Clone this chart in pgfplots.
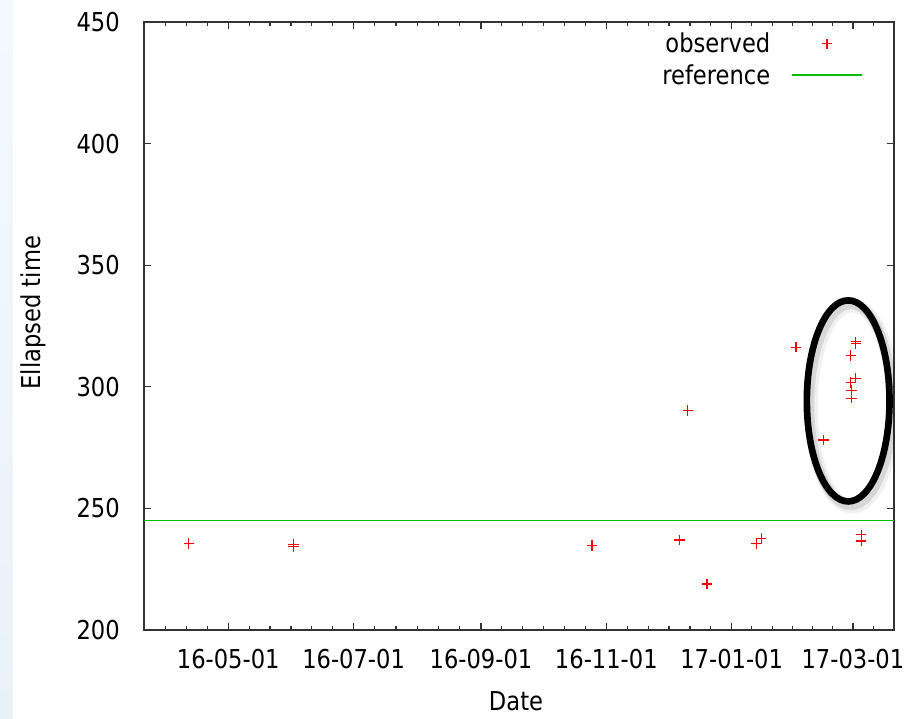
\documentclass[border=0pt]{standalone}
\usepackage{fontspec}
\setmainfont{DejaVu Sans}[FakeStretch=0.87]
\usepackage{pgfplots}
\pgfplotsset{compat=1.18}
\definecolor{gpred}{RGB}{255,0,0}
\definecolor{gpgreen}{RGB}{0,192,0}
\definecolor{striptop}{RGB}{244,249,255}
\definecolor{stripbot}{RGB}{231,242,247}
\newcommand{\gpfont}{\fontsize{19.5}{23.4}\selectfont}
\pgfplotsset{
  obslegend/.style={legend image code/.code={\path[draw=none] (0pt,0pt) -- (52.5pt,0pt); \draw[##1] plot coordinates {(26.25pt,0pt)};}},
  reflegend/.style={legend image code/.code={\draw[##1] (0pt,0pt) -- (52.5pt,0pt);}},
}
\begin{document}
\begin{tikzpicture}
\useasboundingbox (0,0) rectangle (684pt,538.5pt);
\fill[white] (0,0) rectangle (684pt,538.5pt);
\shade[top color=striptop, bottom color=stripbot] (0,0) rectangle (9.5pt,538.5pt);
\begin{axis}[
  at={(108pt,66pt)}, anchor=south west,
  scale only axis, width=562.5pt, height=456pt,
  xmin=80, xmax=445, ymin=200, ymax=450,
  xtick={121,182,244,305,366,425},
  xticklabels={16-05-01,16-07-01,16-09-01,16-11-01,17-01-01,17-03-01},
  minor xtick={90.5,100.67,110.83,131.17,141.33,151.5,161.67,171.83,192.33,202.67,213,223.33,233.67,254.17,264.33,274.5,284.67,294.83,315.17,325.33,335.5,345.67,355.83,375.83,385.67,395.5,405.33,415.17,435.17},
  ytick={200,250,300,350,400,450},
  axis line style={black!80, line width=0.9pt},
  every tick/.style={black!80, line width=0.9pt},
  major tick length=5.25pt, minor tick length=3pt,
  tick align=inside,
  /pgf/number format/assume math mode=true,
  tick label style={font=\gpfont},
  yticklabel style={inner sep=0pt, xshift=-18pt},
  xticklabel style={inner sep=0pt, yshift=-14.25pt},
  xlabel={Date}, ylabel={Ellapsed time},
  label style={font=\gpfont},
  xlabel style={at={(axis description cs:0.496,-0.132)}, anchor=base, inner sep=0pt},
  ylabel style={at={(axis description cs:-0.148,0.522)}, anchor=center},
  legend style={draw=none, fill=none, font=\gpfont, at={(axis description cs:0.9587,0.9825)}, anchor=north east, inner sep=0pt, row sep=7.2pt, column sep=15.75pt, nodes={inner sep=0pt}},
  legend cell align=right,
  legend plot pos=right,
]
\draw[black, opacity=0.06, line width=10pt] ([xshift=3pt,yshift=-4pt]axis cs:422.7,294.2) ellipse [x radius=31pt, y radius=75.4pt];
\draw[black, opacity=0.10, line width=7pt] ([xshift=2pt,yshift=-3pt]axis cs:422.7,294.2) ellipse [x radius=31pt, y radius=75.4pt];
\draw[black, line width=5pt] (axis cs:422.7,294.2) ellipse [x radius=31pt, y radius=75.4pt];
\addplot[only marks, mark=+, mark size=3.9pt, color=gpred, line width=0.85pt, obslegend]
  coordinates {
  (101.8,235.5) (152.7,235.3) (152.7,234.3) (298.0,234.7) (340.6,237.0)
  (344.7,290.2) (354.0,218.9) (377.9,235.4) (380.4,237.6) (397.3,316.3)
  (410.7,278.1) (424.0,312.8) (424.0,301.7) (424.3,298.4) (424.3,295.3)
  (426.4,318.5) (426.4,317.8) (426.4,303.5) (429.0,239.1) (429.0,236.6)
  };
\addlegendentry{observed}
\addplot[color=gpgreen, line width=1.1pt, reflegend]
  coordinates {(80,245) (445,245)};
\addlegendentry{reference}
\end{axis}
\end{tikzpicture}
\end{document}
